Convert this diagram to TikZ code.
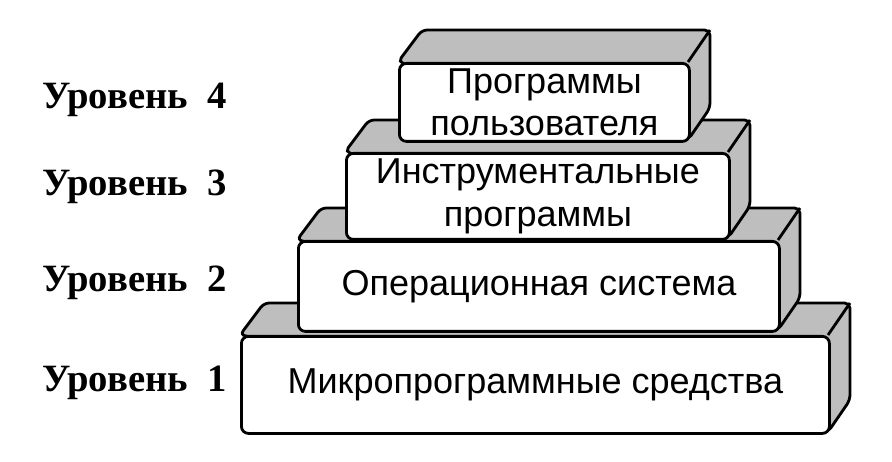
\documentclass[tikz,border=0pt]{standalone}
\usepackage{fontspec}
\setmainfont{Liberation Serif}
\newfontfamily\boxfont{Liberation Sans}
\usetikzlibrary{positioning}
\definecolor{sidegray}{RGB}{190,190,190}

% back of a brick: left, top, right, bottom (px)
\newcommand{\brickback}[4]{%
  \fill[sidegray, draw=black, line width=1.6pt, rounded corners=3pt]
    (#1,#2) -- (#1+24,#2-32) -- (#3+22,#2-32) -- (#3+22,#4-32) -- (#3,#4) -- cycle;
  \draw[black, line width=1.6pt] (#3,#2) -- (#3+22,#2-32);
}
% front of a brick: name, left, top, right, bottom (px), text
\newcommand{\brickfront}[6]{%
  \node[front, minimum width={(#4-#2)*0.02cm}, minimum height={(#5-#3)*0.02cm},
        anchor=north west] (#1) at (#2,#3) {#6};
}

\begin{document}
\begin{tikzpicture}[x=0.02cm, y=-0.02cm,
    front/.style={draw, fill=white, line width=1.6pt, rounded corners=4pt,
      inner sep=0pt, align=center, font=\boxfont\fontsize{20.5}{24}\selectfont},
    level/.style={font=\bfseries\fontsize{22}{24}\selectfont, anchor=west}
]
    \useasboundingbox (0,0) rectangle (892,462);

    % Grey tops and sides, lowest first
    \brickback{240}{335}{828}{432}
    \brickback{297}{240}{778}{330}
    \brickback{345}{152}{728}{238}
    \brickback{398}{62}{688}{140}

    % Front faces
    \brickfront{b4}{398}{62}{688}{140}{Программы\\пользователя}
    \brickfront{b3}{345}{152}{728}{238}{Инструментальные\\программы}
    \brickfront{b2}{297}{240}{778}{330}{Операционная система}
    \brickfront{b1}{240}{335}{828}{432}{Микропрограммные средства}

    % Level labels
    \node[level] (l4) at (36,100) {Уровень\ \ 4};
    \node[level] (l3) at (36,187) {Уровень\ \ 3};
    \node[level] (l2) at (36,283) {Уровень\ \ 2};
    \node[level] (l1) at (36,383) {Уровень\ \ 1};
\end{tikzpicture}
\end{document}
